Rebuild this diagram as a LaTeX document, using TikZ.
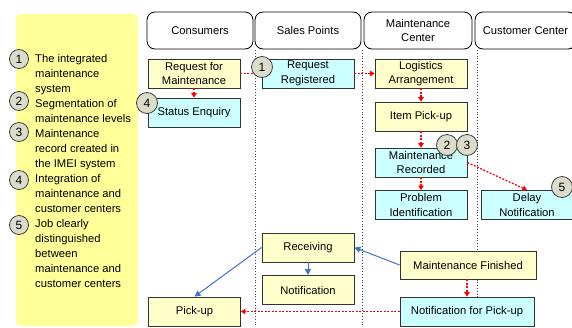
\documentclass[tikz,border=0pt]{standalone}
\usepackage{fontspec}
\setmainfont{Liberation Sans}
\usetikzlibrary{arrows.meta}

\definecolor{panel}{HTML}{FFFF99}
\definecolor{ylw}{HTML}{FFFFCC}
\definecolor{cyn}{HTML}{CCFFFF}
\definecolor{badgefill}{HTML}{DCDCCC}
\definecolor{flowblue}{HTML}{4472C4}
\definecolor{lanegray}{HTML}{444444}

\begin{document}
\begin{tikzpicture}[x=1pt,y=-1pt,
  font=\fontsize{11.2}{14.5}\selectfont,
  box/.style={draw=black!80, line width=0.8pt, minimum width=92pt, minimum height=29pt, inner sep=1pt, align=center},
  yellowbox/.style={box, fill=ylw},
  cyanbox/.style={box, fill=cyn},
  header/.style={draw=black, line width=0.8pt, rounded corners=8pt, fill=white, minimum height=37pt, align=center, inner sep=1pt},
  lane/.style={lanegray, dotted, line width=0.8pt},
  redflow/.style={red, line width=1.2pt, dash pattern=on 2pt off 1.5pt, -{Triangle[width=5.5pt,length=4.5pt]}},
  blueflow/.style={flowblue, line width=1pt, -{Triangle[width=6pt,length=6pt]}},
  badge/.style={circle, draw=black!75, line width=0.8pt, fill=badgefill, minimum size=21pt, inner sep=0pt, font=\fontsize{12}{14}\selectfont},
  smallbadge/.style={badge, minimum size=19pt},
  legendtext/.style={anchor=north west, inner sep=0pt, align=left, font=\fontsize{11.2}{15}\selectfont}
]
\useasboundingbox (0,0) rectangle (572,327);

% legend panel
\fill[panel, rounded corners=5pt] (16,14) rectangle (138,326);
\node[smallbadge] (l1) at (19,59)  {1};
\node[smallbadge] (l2) at (19,101) {2};
\node[smallbadge] (l3) at (19,132) {3};
\node[smallbadge] (l4) at (19,180) {4};
\node[smallbadge] (l5) at (19,225) {5};
\node[legendtext] (t1) at (35,53.8)  {The integrated\\maintenance\\system};
\node[legendtext] (t2) at (35,98.8)  {Segmentation of\\maintenance levels};
\node[legendtext] (t3) at (35,128.8) {Maintenance\\record created in\\the IMEI system};
\node[legendtext] (t4) at (35,173.8) {Integration of\\maintenance and\\customer centers};
\node[legendtext] (t5) at (35,218.8) {Job clearly\\distinguished\\between\\maintenance and\\customer centers};

% swimlane separators
\draw[lane] (255,50) -- (255,327);
\draw[lane] (362,50) -- (362,327);
\draw[lane] (477,50) -- (477,327);

% lane headers
\node[header, minimum width=106pt] (hcons) at (200,30.5)   {Consumers};
\node[header, minimum width=106pt] (hsale) at (308,30.5)   {Sales Points};
\node[header, minimum width=108pt] (hmain) at (418,30.5)   {Maintenance\\Center};
\node[header, minimum width=101pt] (hcust) at (525.5,30.5) {Customer Center};

% process steps
\node[yellowbox] (rfm) at (194,73.5)  {Request for\\Maintenance};
\node[cyanbox]   (se)  at (194,112.5) {Status Enquiry};
\node[cyanbox]   (rr)  at (308,73.5)  {Request\\Registered};
\node[yellowbox] (la)  at (421,73.5)  {Logistics\\Arrangement};
\node[yellowbox] (ip)  at (421,116.5) {Item Pick-up};
\node[cyanbox]   (mr)  at (421,162.5) {Maintenance\\Recorded};
\node[cyanbox]   (pi)  at (421,205)   {Problem\\Identification};
\node[cyanbox]   (dn)  at (527,205)   {Delay\\Notification};
\node[yellowbox] (rcv) at (308,247.5) {Receiving};
\node[yellowbox] (ntf) at (308,290)   {Notification};
\node[yellowbox] (pu)  at (194.5,311.5) {Pick-up};
\node[yellowbox, minimum width=136pt, minimum height=28pt] (mf)  at (468,265)   {Maintenance Finished};
\node[cyanbox,   minimum width=134pt] (nfp) at (467,311.5) {Notification for Pick-up};

% information flow
\draw[redflow] (rfm) -- (rr);
\draw[redflow] (rr) -- (la);
\draw[redflow] (rfm) -- (se);
\draw[redflow] (la) -- (ip);
\draw[redflow] (ip) -- (mr);
\draw[redflow] (mr) -- (pi);
\draw[redflow] (mr.east) -- (dn.north);
\draw[redflow] (mf.south -| nfp.north) -- (nfp.north);
\draw[redflow] (nfp) -- (pu);

% physical flow
\draw[blueflow] (rcv.west) -- (pu.north);
\draw[blueflow] (rcv) -- (ntf);
\draw[blueflow] (mf.west) -- (rcv.east);

% numbered markers
\node[badge] (b1) at (262,67)  {1};
\node[badge] (b4) at (147,103) {4};
\node[badge] (b2) at (447,145) {2};
\node[badge] (b3) at (467,145) {3};
\node[badge] (b5) at (562,187) {5};
\end{tikzpicture}
\end{document}
